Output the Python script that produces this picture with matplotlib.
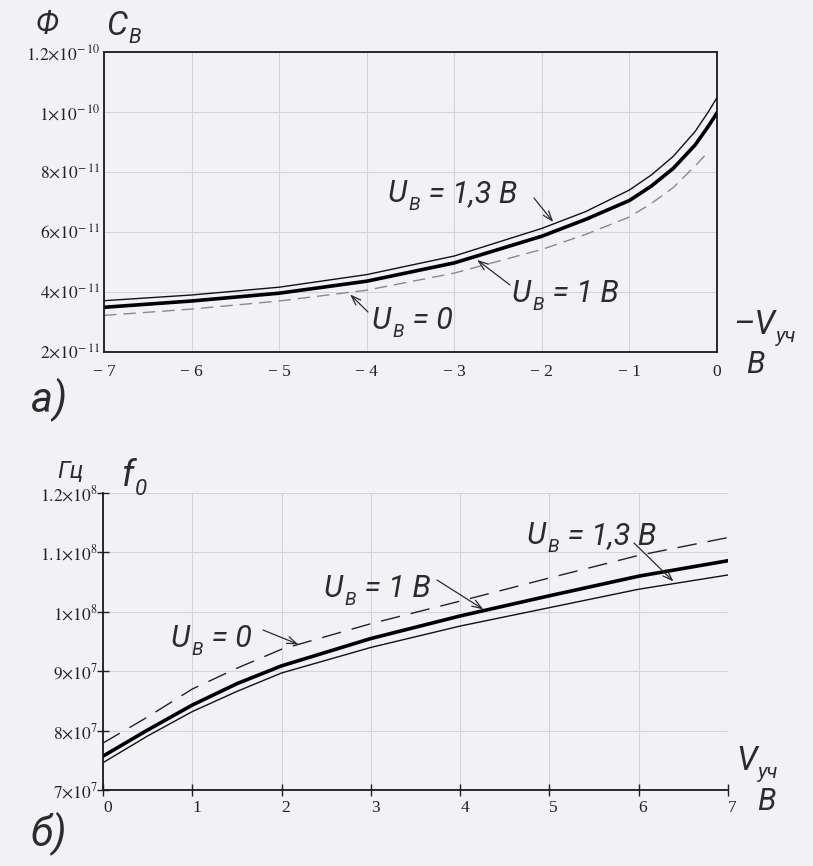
import matplotlib
matplotlib.use('Agg')
import matplotlib.pyplot as plt
import numpy as np
from matplotlib.ticker import FixedLocator, FixedFormatter

plt.rcParams['font.family'] = ['Liberation Serif', 'DejaVu Serif']
plt.rcParams['mathtext.fontset'] = 'stix'

# --- a) capacitance C_B vs -V_uch ---
v_top = [-7, -6, -5, -4, -3, -2, -1.5, -1, -0.75, -0.5, -0.25, -0.1, 0]
c_13 = [3.71, 3.9, 4.16, 4.58, 5.2, 6.12, 6.68, 7.4, 7.9, 8.52, 9.35, 10.0, 10.48]   # U_B = 1,3 B
c_10 = [3.49, 3.7, 3.96, 4.36, 4.97, 5.86, 6.42, 7.05, 7.53, 8.12, 8.9, 9.52, 9.97]  # U_B = 1 B
v_top_d = [-7, -6, -5, -4, -3, -2, -1.5, -1, -0.75, -0.5, -0.25, -0.1]
c_00 = [3.22, 3.43, 3.7, 4.06, 4.63, 5.42, 5.92, 6.5, 6.95, 7.48, 8.2, 8.67]       # U_B = 0
top_xticks = [-7, -6, -5, -4, -3, -2, -1, 0]
top_xlabels = ['\u2212 7', '\u2212 6', '\u2212 5', '\u2212 4', '\u2212 3', '\u2212 2', '\u2212 1', '0']
top_yticks = [2e-11, 4e-11, 6e-11, 8e-11, 1e-10, 1.2e-10]
top_ylabels = [r'$2{\times}10^{-\,11}$', r'$4{\times}10^{-\,11}$', r'$6{\times}10^{-\,11}$',
               r'$8{\times}10^{-\,11}$', r'$1{\times}10^{-\,10}$', r'$1.2{\times}10^{-\,10}$']

# --- b) resonance frequency f_0 vs V_uch ---
v_bot = [0, 0.5, 1, 1.5, 2, 3, 4, 5, 6, 7]
f_00 = [7.79, 8.23, 8.70, 9.05, 9.37, 9.8, 10.18, 10.57, 10.95, 11.25]   # U_B = 0
f_10 = [7.57, 8.01, 8.43, 8.79, 9.09, 9.55, 9.93, 10.27, 10.6, 10.86]    # U_B = 1 B
f_13 = [7.46, 7.91, 8.32, 8.66, 8.97, 9.4, 9.76, 10.07, 10.38, 10.62]    # U_B = 1,3 B
bot_xticks = [0, 1, 2, 3, 4, 5, 6, 7]
bot_yticks = [7e7, 8e7, 9e7, 1e8, 1.1e8, 1.2e8]
bot_ylabels = [r'$7{\times}10^{7}$', r'$8{\times}10^{7}$', r'$9{\times}10^{7}$',
               r'$1{\times}10^{8}$', r'$1.1{\times}10^{8}$', r'$1.2{\times}10^{8}$']

W, H = 813, 866
bg = '#f2f2f6'
ink = '#2c2c2c'
grid_c = '#d4d4dc'
hand_font = ['Roboto', 'DejaVu Sans']

fig = plt.figure(figsize=(W / 100, H / 100), dpi=100, facecolor=bg)
renderer = fig.canvas.get_renderer()


def fp(x, y):
    # image pixel -> figure fraction
    return (x / W, 1 - y / H)


def hand(x, y, parts, size=22):
    # handwritten-style label; parts = [(text, is_subscript), ...], y is baseline in image px
    px = x
    for s, sub in parts:
        fs = size * 0.62 if sub else size
        dy = size * 0.35 if sub else 0
        t = fig.text(px / W, 1 - (y + dy) / H, s, fontsize=fs, color=ink, style='italic',
                     weight='normal', family=hand_font, ha='left', va='baseline')
        px = t.get_window_extent(renderer).x1 + 1


def arrow(ax, xy, x0, y0):
    ax.annotate('', xy=xy, xycoords='data', xytext=fp(x0, y0), textcoords='figure fraction',
                arrowprops=dict(arrowstyle='->,head_length=0.7,head_width=0.25', color=ink, lw=0.9,
                                shrinkA=0, shrinkB=0))


# top axes
ax1 = fig.add_axes([104 / W, 1 - 352 / H, 613 / W, 300 / H], facecolor=bg)
ax1.plot(v_top, np.array(c_13) * 1e-11, color='#111', lw=1.0)
ax1.plot(v_top, np.array(c_10) * 1e-11, color='#000', lw=2.6)
ax1.plot(v_top_d, np.array(c_00) * 1e-11, color='#8a8a8a', lw=1.0, dashes=(9, 5))
ax1.set_xlim(-7, 0)
ax1.set_ylim(2e-11, 1.2e-10)
ax1.xaxis.set_major_locator(FixedLocator(top_xticks))
ax1.xaxis.set_major_formatter(FixedFormatter(top_xlabels))
ax1.yaxis.set_major_locator(FixedLocator(top_yticks))
ax1.yaxis.set_major_formatter(FixedFormatter(top_ylabels))
ax1.grid(True, color=grid_c, lw=0.8)
ax1.tick_params(axis='x', length=0, pad=9, labelsize=12.5, colors='#222')
ax1.tick_params(axis='y', length=0, pad=3, labelsize=12.5, colors='#222')
for s in ax1.spines.values():
    s.set_color('#1a1a1a')
    s.set_linewidth(1.3)

# bottom axes
ax2 = fig.add_axes([103 / W, 1 - 790 / H, 625 / W, 297 / H], facecolor=bg)
ax2.plot(v_bot, np.array(f_00) * 1e7, color='#222', lw=1.0, dashes=(14, 8))
ax2.plot(v_bot, np.array(f_10) * 1e7, color='#000', lw=2.6)
ax2.plot(v_bot, np.array(f_13) * 1e7, color='#111', lw=1.0)
ax2.set_xlim(0, 7)
ax2.set_ylim(7e7, 1.2e8)
ax2.xaxis.set_major_locator(FixedLocator(bot_xticks))
ax2.yaxis.set_major_locator(FixedLocator(bot_yticks))
ax2.yaxis.set_major_formatter(FixedFormatter(bot_ylabels))
ax2.grid(True, color=grid_c, lw=0.8)
ax2.tick_params(axis='x', direction='inout', length=9, width=1.0, pad=3, labelsize=12.5, colors='#222')
ax2.tick_params(axis='y', direction='inout', length=9, width=1.0, pad=-1, labelsize=12.5, colors='#222')
for lab in ax2.get_xticklabels():
    lab.set_horizontalalignment('left')
ax2.spines['top'].set_visible(False)
ax2.spines['right'].set_visible(False)
for side in ['left', 'bottom']:
    ax2.spines[side].set_color('#1a1a1a')
    ax2.spines[side].set_linewidth(1.3)

# handwritten labels, top
hand(36, 33, [('\u0424', False)], size=22)
hand(106, 35, [('C', False), ('В', True)], size=24)
hand(733, 334, [('\u2013V', False), ('уч', True)], size=24)
hand(746, 373, [('В', False)], size=22)
hand(31, 412, [('а)', False)], size=30)
hand(388, 202, [('U', False), ('В', True), (' = 1,3 В', False)], size=22)
hand(512, 302, [('U', False), ('В', True), (' = 1 В', False)], size=22)
hand(372, 329, [('U', False), ('В', True), (' = 0', False)], size=22)
arrow(ax1, (-1.87, 6.33e-11), 534, 198)
arrow(ax1, (-2.74, 5.07e-11), 510, 285)
arrow(ax1, (-4.19, 3.92e-11), 368, 312)

# handwritten labels, bottom
hand(57, 478, [('Гц', False)], size=17)
hand(122, 486, [('f', False), ('0', True)], size=26)
hand(736, 770, [('V', False), ('уч', True)], size=24)
hand(757, 810, [('В', False)], size=22)
hand(31, 846, [('б)', False)], size=30)
hand(527, 544, [('U', False), ('В', True), (' = 1,3 В', False)], size=22)
hand(324, 597, [('U', False), ('В', True), (' = 1 В', False)], size=22)
hand(171, 647, [('U', False), ('В', True), (' = 0', False)], size=22)
arrow(ax2, (6.39, 1.051e8), 634, 543)
arrow(ax2, (4.26, 1.004e8), 437, 580)
arrow(ax2, (2.19, 9.45e7), 263, 630)

fig.savefig('out.png', dpi=100, facecolor=bg)
